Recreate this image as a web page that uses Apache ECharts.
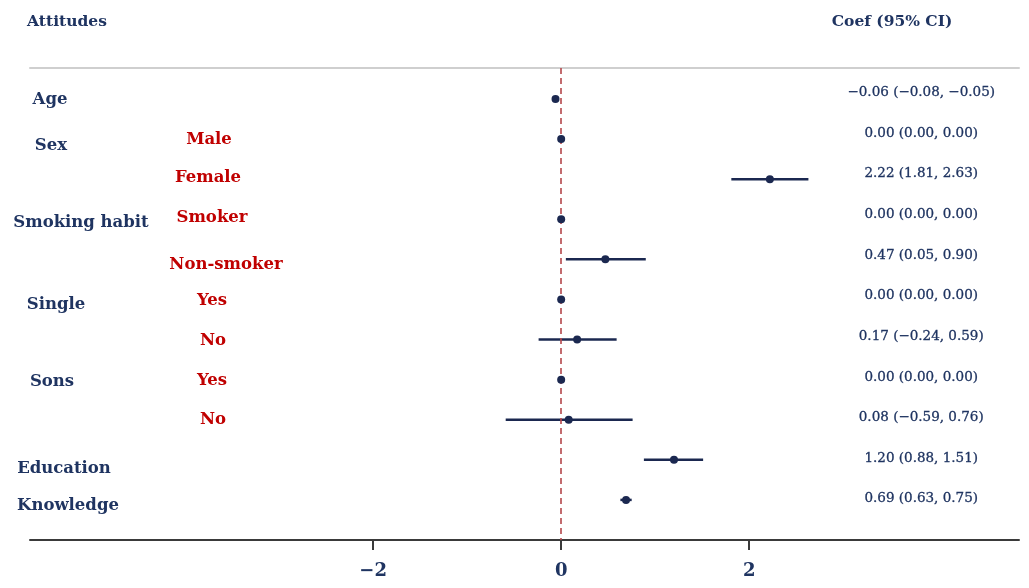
<!DOCTYPE html>
<html>
<head>
<meta charset="utf-8">
<script src="https://cdn.jsdelivr.net/npm/echarts@6/dist/echarts.min.js"></script>
<style>html,body{margin:0;padding:0;background:#fff}#c{width:1029px;height:588px}</style>
</head>
<body>
<div id="c"></div>
<script>
// ---- data ----
var rowLabels = ['Age', 'Male', 'Female', 'Smoker', 'Non-smoker', 'Yes', 'No', 'Yes', 'No', 'Education', 'Knowledge'];
var coef = [-0.06, 0.00, 2.22, 0.00, 0.47, 0.00, 0.17, 0.00, 0.08, 1.20, 0.69];
var ciLow = [-0.08, 0.00, 1.81, 0.00, 0.05, 0.00, -0.24, 0.00, -0.59, 0.88, 0.63];
var ciHigh = [-0.05, 0.00, 2.63, 0.00, 0.90, 0.00, 0.59, 0.00, 0.76, 1.51, 0.75];
var variableNames = ['Age', 'Sex', 'Smoking habit', 'Single', 'Sons', 'Education', 'Knowledge'];
var levelRows = [1, 2, 3, 4, 5, 6, 7, 8]; // rows that carry a red level label
var xTicks = [-2, 0, 2];
var headerLeft = 'Attitudes';
var headerRight = 'Coef (95% CI)';

// ---- layout / style (not data) ----
var NAVY = '#1f3461';
var MARK = '#1b2850';
var RED = '#c00000';
var FONT = '"DejaVu Serif", "Liberation Serif", serif';
var varPos = [[50, 100], [51, 146], [81, 223], [56, 305], [52, 382], [64, 469], [68, 506]];
var levelPos = [[209, 140], [208, 178], [212, 218], [226, 265], [212, 301], [213, 341], [212, 381], [213, 420]];
var coefTextX = 3.83;

function fmt(v) { return v.toFixed(2).replace('-', '\u2212'); }

var idx = rowLabels.map(function (_, i) { return i; });
var pointData = idx.map(function (i) { return [coef[i], i]; });
var ciData = idx.map(function (i) { return [ciLow[i], ciHigh[i], i]; });
var textData = idx.map(function (i) {
  return { value: [coefTextX, i], txt: fmt(coef[i]) + ' (' + fmt(ciLow[i]) + ', ' + fmt(ciHigh[i]) + ')' };
});

var graphics = [];
graphics.push({ type: 'text', x: 67, y: 22, style: { text: headerLeft, fill: NAVY, font: 'bold 15.5px ' + FONT, align: 'center', verticalAlign: 'middle' } });
graphics.push({ type: 'text', x: 892, y: 22, style: { text: headerRight, fill: NAVY, font: 'bold 15.5px ' + FONT, align: 'center', verticalAlign: 'middle' } });
variableNames.forEach(function (n, k) {
  graphics.push({ type: 'text', x: varPos[k][0], y: varPos[k][1], style: { text: n, fill: NAVY, font: 'bold 16.5px ' + FONT, align: 'center', verticalAlign: 'middle' } });
});
levelRows.forEach(function (r, k) {
  graphics.push({ type: 'text', x: levelPos[k][0], y: levelPos[k][1], style: { text: rowLabels[r], fill: RED, font: 'bold 16.5px ' + FONT, align: 'center', verticalAlign: 'middle' } });
});

var chart = echarts.init(document.getElementById('c'), null, { renderer: 'canvas' });
chart.setOption({
  animation: false,
  backgroundColor: '#fff',
  grid: { left: 30, right: 10, top: 68, bottom: 48 },
  xAxis: [
    {
      type: 'value', position: 'bottom', min: -5.65, max: 4.87,
      splitLine: { show: false },
      axisLine: { show: true, onZero: false, lineStyle: { color: '#3a3a3a', width: 2 } },
      axisTick: { show: true, customValues: xTicks, length: 10, lineStyle: { color: '#3a3a3a', width: 2 } },
      axisLabel: { show: true, customValues: xTicks, margin: 22, color: NAVY, fontFamily: FONT, fontWeight: 'bold', fontSize: 18,
        formatter: function (v) { return String(v).replace('-', '\u2212'); } }
    },
    {
      type: 'value', position: 'top', min: -5.65, max: 4.87,
      splitLine: { show: false },
      axisLine: { show: true, onZero: false, lineStyle: { color: '#cfcfcf', width: 2 } },
      axisTick: { show: false }, axisLabel: { show: false }
    }
  ],
  yAxis: [
    { type: 'value', min: -0.773, max: 11, inverse: true, show: false },
    { type: 'value', min: -0.608, max: 11.01, inverse: true, show: false }
  ],
  graphic: graphics,
  series: [
    {
      type: 'custom', name: 'CI', xAxisIndex: 0, yAxisIndex: 0, data: ciData, silent: true,
      renderItem: function (params, api) {
        var p1 = api.coord([api.value(0), api.value(2)]);
        var p2 = api.coord([api.value(1), api.value(2)]);
        return { type: 'line', shape: { x1: p1[0], y1: p1[1], x2: p2[0], y2: p2[1] }, style: { stroke: MARK, lineWidth: 2.5 } };
      }
    },
    {
      type: 'scatter', name: 'Coef', xAxisIndex: 0, yAxisIndex: 0, data: pointData,
      symbol: 'circle', symbolSize: 8, itemStyle: { color: MARK, opacity: 1 }, z: 5,
      markLine: {
        silent: true, symbol: 'none', label: { show: false },
        lineStyle: { color: '#b5474b', type: [6, 4], width: 1.6 },
        data: [{ xAxis: 0 }]
      }
    },
    {
      type: 'scatter', name: 'text', xAxisIndex: 0, yAxisIndex: 1, data: textData,
      symbolSize: 0, silent: true, itemStyle: { opacity: 1 },
      label: { show: true, position: 'inside', color: NAVY, fontFamily: FONT, fontSize: 13.5, fontWeight: 500,
        textBorderColor: NAVY, textBorderWidth: 0.3,
        formatter: function (p) { return p.data.txt; } }
    }
  ]
});
</script>
</body>
</html>
